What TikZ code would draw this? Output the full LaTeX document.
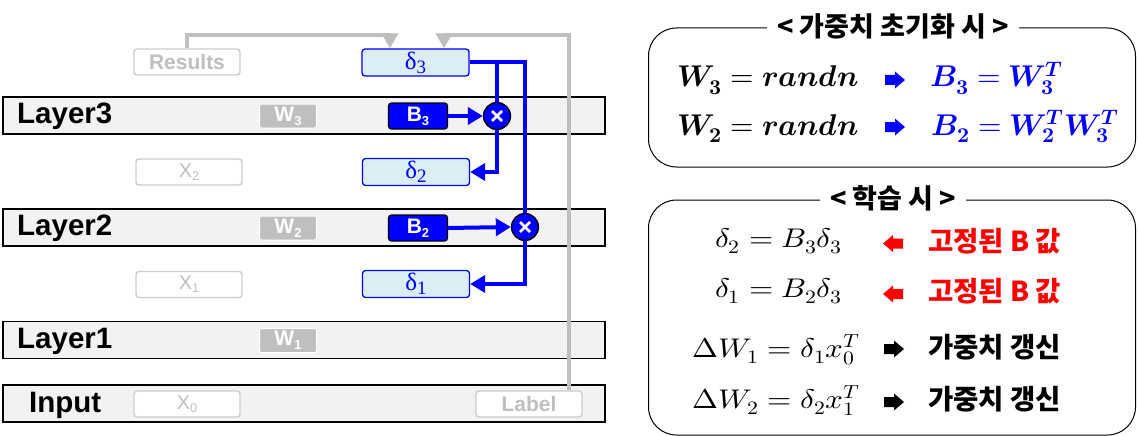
\documentclass[tikz,border=0pt]{standalone}
\usepackage{fontspec}
\usepackage{unicode-math}
\setmainfont{Liberation Sans}
\setmathfont{Latin Modern Math}
\newfontfamily\kr{Noto Sans CJK KR}
\newfontfamily\serifd{Liberation Serif}
\usetikzlibrary{arrows.meta}
\definecolor{pblue}{HTML}{0000FF}
\definecolor{layerfill}{HTML}{F2F2F2}
\definecolor{ghostborder}{HTML}{CCCCCC}
\definecolor{ghosttext}{HTML}{BFBFBF}
\definecolor{wgray}{HTML}{BFBFBF}
\definecolor{dfill}{HTML}{DAEEF3}
\definecolor{pred}{HTML}{FF0000}
\newcommand\fsz[1]{\fontsize{#1}{#1}\selectfont}
\newcommand\dl[1]{{\serifd\fsz{25}δ}\raisebox{-4pt}{\serifd\fsz{19}#1}}
\newcommand\gx[1]{X\raisebox{-3pt}{\fsz{12.5}#1}}
\newcommand\wsub[2]{#1\raisebox{-4pt}{\fsz{13}#2}}
\newcommand\bw[1]{\symbfit{#1}}
\newcommand\bd[1]{\symbfup{#1}}
\newcommand\wide[1]{\scalebox{1.15}[1]{#1}}
\begin{document}
\begin{tikzpicture}[x=1pt,y=-1pt,
  layerbox/.style={draw=black, line width=1.3pt, fill=layerfill, minimum width=602pt, minimum height=37pt, inner sep=0pt},
  layertext/.style={anchor=base west, inner sep=0pt, font=\bfseries\fsz{29.5}},
  ghost/.style={draw=ghostborder, line width=1.4pt, rounded corners=3pt, fill=white, minimum width=106pt, minimum height=26pt, inner sep=0pt, text=ghosttext, font=\fsz{20}},
  wbox/.style={fill=wgray, draw=white, line width=1pt, rounded corners=2pt, minimum width=57pt, minimum height=24pt, inner sep=0pt, text=white, font=\bfseries\fsz{21}},
  bbox/.style={fill=pblue, draw=black, line width=1.3pt, rounded corners=3pt, minimum width=59pt, minimum height=26pt, inner sep=0pt, text=white, font=\bfseries\fsz{21}},
  dbox/.style={fill=dfill, draw=pblue, line width=1.3pt, rounded corners=3pt, minimum width=107pt, minimum height=27pt, inner sep=0pt, text=pblue},
  mult/.style={circle, fill=pblue, draw=black, line width=1.3pt, minimum size=27pt, inner sep=0pt,
    path picture={\draw[white, line width=2.6pt]
      ([shift={(-5pt,-5pt)}]path picture bounding box.center) -- ([shift={(5pt,5pt)}]path picture bounding box.center)
      ([shift={(-5pt,5pt)}]path picture bounding box.center) -- ([shift={(5pt,-5pt)}]path picture bounding box.center);}},
  bline/.style={draw=pblue, line width=4pt},
  barrow/.style={bline, -{Triangle[length=15pt,width=17pt]}},
  garrow/.style={draw=wgray, line width=4.5pt, -{Triangle[length=15pt,width=16pt]}},
  panel/.style={draw=black, line width=1pt, rounded corners=28pt, minimum width=487pt, inner sep=0pt},
  ptitle/.style={fill=white, inner xsep=10pt, inner ysep=2pt, font=\kr\bfseries\fsz{27}},
  eqn/.style={anchor=base west, inner sep=0pt},
  krlab/.style={anchor=west, inner sep=0pt, font=\kr\bfseries\fsz{27.5}},
  rblk/.pic={\fill (-10,-5) -- (0,-5) -- (0,-8.5) -- (10,0) -- (0,8.5) -- (0,5) -- (-10,5) -- cycle;}
]
\useasboundingbox (0,0) rectangle (1138,436);

% layers
\node[layerbox] (L3) at (304,115.5) {};
\node[layerbox] (L2) at (304,227.5) {};
\node[layerbox] (L1) at (304,340) {};
\node[layerbox] (L0) at (304,403.5) {};
\node[layertext] (t3) at (17,123.5) {Layer3};
\node[layertext] (t2) at (17,235.5) {Layer2};
\node[layertext] (t1) at (17,348) {Layer1};
\node[layertext] (t0) at (29,412) {Input};

% ghost boxes
\node[ghost, font=\bfseries\fsz{21}] (res) at (187,62) {Results};
\node[ghost] (x2) at (189,172) {\gx{2}};
\node[ghost] (x1) at (189,284.5) {\gx{1}};
\node[ghost] (x0) at (187,404) {\gx{0}};
\node[ghost, font=\bfseries\fsz{21}] (lab) at (529,404) {Label};

% weights
\node[wbox] (w3) at (288,116) {\wsub{W}{3}};
\node[wbox] (w2) at (288,228) {\wsub{W}{2}};
\node[wbox] (w1) at (288,340.5) {\wsub{W}{1}};

% feedback matrices
\node[bbox] (b3) at (418,116) {\wsub{B}{3}};
\node[bbox] (b2) at (418,228) {\wsub{B}{2}};

% multipliers
\node[mult] (c3) at (497,116) {};
\node[mult] (c2) at (525,227) {};

% deltas
\node[dbox] (d3) at (415.5,62.5) {\dl{3}};
\node[dbox] (d2) at (416,172) {\dl{2}};
\node[dbox] (d1) at (416,284) {\dl{1}};

% gray connectors
\draw[garrow] (res.north) -- ([yshift=13.5pt]res.north) -| ([xshift=-25.5pt]d3.north);
\draw[garrow] ([xshift=40pt]lab.north) |- ([xshift=28.5pt,yshift=13.5pt]d3.north) -- ([xshift=28.5pt]d3.north);

% blue connectors
\draw[bline] (d3.east) -| (c2.north);
\draw[bline] (d3.east -| c3.north) -- (c3.north);
\draw[barrow] (b3.east) -- (c3.west);
\draw[barrow] (b2.east) -- (c2.west);
\draw[barrow] (c3.south) |- (d2.east);
\draw[barrow] (c2.south) |- (d1.east);

% right panels
\node[panel, minimum height=139pt] (p1) at (892,97.5) {};
\node[ptitle] (pt1) at (893,26) {< 가중치 초기화 시 >};
\node[panel, minimum height=235pt] (p2) at (892,317.5) {};
\node[ptitle] (pt2) at (893,198) {< 학습 시 >};

\node[eqn, font=\fsz{30}] (e1) at (677,87) {$\bw{W}_{\bd{3}} = \bw{randn}$};
\node[eqn, font=\fsz{30}] (e2) at (677,135) {$\bw{W}_{\bd{2}} = \bw{randn}$};
\pic[color=pblue] at (895,80) {rblk};
\pic[color=pblue] at (895,127) {rblk};
\node[eqn, font=\fsz{30}, text=pblue] (e3) at (930,87) {$\bw{B}_{\bd{3}} = \bw{W}_{\bd{3}}^{\bw{T}}$};
\node[eqn, font=\fsz{30}, text=pblue] (e4) at (931,135) {$\bw{B}_{\bd{2}} = \bw{W}_{\bd{2}}^{\bw{T}}\bw{W}_{\bd{3}}^{\bw{T}}$};

\node[eqn, font=\fsz{27}] (f1) at (715,247) {\wide{$\delta_2 = B_3\delta_3$}};
\node[eqn, font=\fsz{27}] (f2) at (715,297) {\wide{$\delta_1 = B_2\delta_3$}};
\node[eqn, font=\fsz{27}] (f3) at (692,357) {\wide{$\Delta W_1 = \delta_1 x_0^T$}};
\node[eqn, font=\fsz{27}] (f4) at (692,408) {\wide{$\Delta W_2 = \delta_2 x_1^T$}};

\pic[color=pred, xscale=-1] at (893,243.5) {rblk};
\pic[color=pred, xscale=-1] at (893,294) {rblk};
\pic[color=black] at (894,349) {rblk};
\pic[color=black] at (894,402) {rblk};

\node[krlab, text=pred] (k1) at (928,241) {고정된 B 값};
\node[krlab, text=pred] (k2) at (928,291) {고정된 B 값};
\node[krlab] (k3) at (928,347.5) {가중치 갱신};
\node[krlab] (k4) at (928,399) {가중치 갱신};
\end{tikzpicture}
\end{document}
